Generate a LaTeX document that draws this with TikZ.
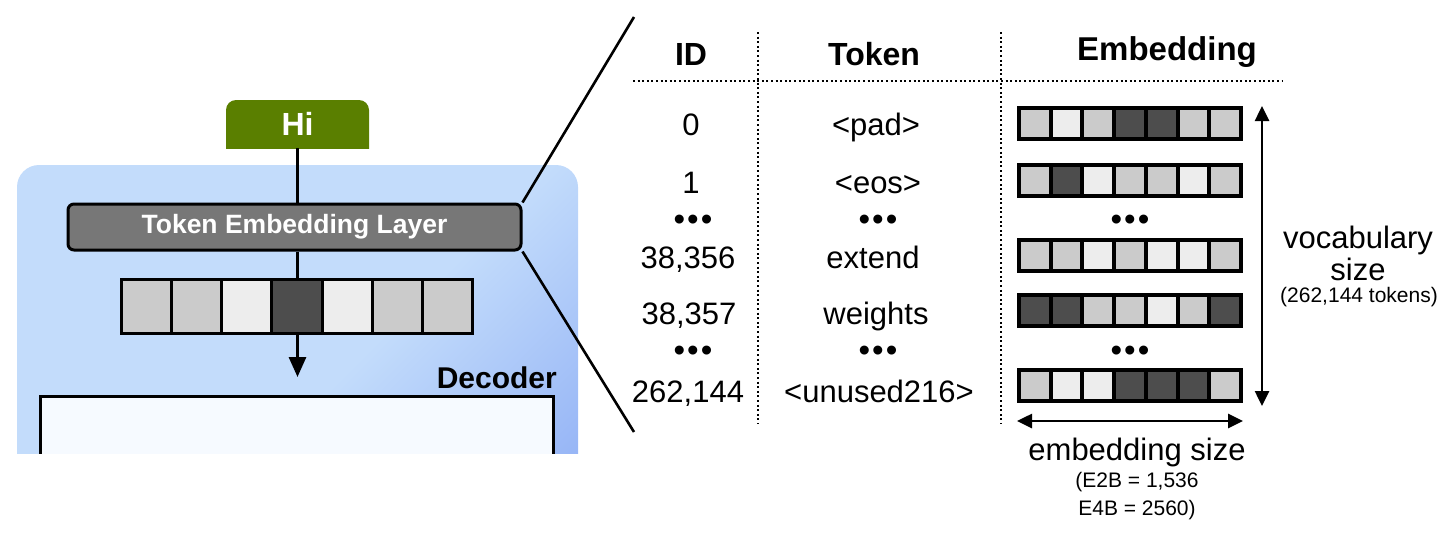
\documentclass[tikz,border=0pt]{standalone}
\usepackage{fontspec}
\setmainfont{Liberation Sans}
\usetikzlibrary{arrows.meta}
\definecolor{blueL}{HTML}{C3DCFB}
\definecolor{blueD}{HTML}{8DADF5}
\definecolor{decfill}{HTML}{F6FAFF}
\definecolor{higreen}{HTML}{5A7F00}
\definecolor{telgray}{HTML}{777777}
\definecolor{cellL}{HTML}{CBCBCB}
\definecolor{cellW}{HTML}{EDEDED}
\definecolor{cellD}{HTML}{4D4D4D}
\pgfdeclarehorizontalshading{decshade}{100bp}{color(0bp)=(blueL); color(56bp)=(blueL); color(86bp)=(blueD); color(100bp)=(blueD)}
\newcommand{\fsz}[2]{\fontsize{#1}{#2}\selectfont}
\begin{document}
\begin{tikzpicture}[x=1pt,y=-1pt,
  conn/.style={line width=3pt, draw=black},
  txt/.style={inner sep=0pt, font=\fsz{31}{33}},
  hdr/.style={inner sep=0pt, font=\bfseries\fsz{32}{34}},
  small/.style={inner sep=0pt, font=\fsz{21}{28}, align=center},
  dotline/.style={line width=1.8pt, dash pattern=on 2pt off 2.6pt},
  dimarrow/.style={line width=2.6pt, {Triangle[length=15pt,width=14pt]}-{Triangle[length=15pt,width=14pt]}},
  hibox/.style={minimum width=143pt, minimum height=48pt, inner sep=0pt, text=white,
    font=\bfseries\fsz{32}{34},
    path picture={\fill[higreen, rounded corners=10pt] (path picture bounding box.north west) rectangle ([yshift=-20pt]path picture bounding box.south east);}},
  telbox/.style={draw=black, line width=3pt, fill=telgray, rounded corners=6pt,
    minimum width=453pt, minimum height=46pt, inner sep=0pt, text=white, font=\bfseries\fsz{26.5}{28}},
  dots/.style={inner sep=0pt, font=\fsz{33}{35}, anchor=base},
]
\useasboundingbox (0,0) rectangle (1456,536);

% ---------- left panel ----------
\begin{scope}
  \clip (0,0) rectangle (1456,453);
  \shade[shading=decshade, shading angle=-45, rounded corners=22pt] (17,165) rectangle (578,520);
  \draw[line width=3pt, fill=decfill] (40,396) rectangle (553,520);
\end{scope}

\node[hibox] (hi) at (297.5,124) {Hi};
\node[telbox] (tel) at (294.5,227) {Token Embedding Layer};
\coordinate (arrtip) at (297.5,377);
\draw[conn] (hi.south) -- (hi.south |- tel.north);
\draw[conn, -{Triangle[length=20pt,width=17pt]}] (hi.south |- tel.south) -- (arrtip);

% left vector
\fill[black] (120,278) rectangle (474,335);
\foreach \c [count=\i from 0] in {L,L,W,D,W,L,L} {
  \fill[cell\c] ({123+\i*50.14},281) rectangle ++(47.14,51);
}

\node[font=\bfseries\fsz{30}{32}, inner sep=0pt, anchor=base east] (declab) at (557,388) {Decoder};

% zoom lines
\coordinate (zt) at (634,17);
\coordinate (zb) at (634,432);
\draw[line width=2.6pt] (tel.north east) -- (zt);
\draw[line width=2.6pt] (tel.south east) -- (zb);

% ---------- table ----------
\node[hdr, anchor=base] (hID) at (691,65) {ID};
\node[hdr, anchor=base] (hTok) at (874,65) {Token};
\node[hdr, anchor=base, font=\bfseries\fsz{33}{35}] (hEmb) at (1167,60) {Embedding};

\draw[dotline] (633,81) -- (1283,81);
\draw[dotline] (758,32) -- (758,424);
\draw[dotline] (1001,32) -- (1001,424);

\node[txt, anchor=base] (id0) at (691,135) {0};
\node[txt, anchor=base] (id1) at (691,193) {1};
\node[dots] (idd1) at (693,230) {•\kern2pt•\kern2pt•};
\node[txt, anchor=base] (id2) at (688,268) {38,356};
\node[txt, anchor=base] (id3) at (689,324) {38,357};
\node[dots] (idd2) at (693,361) {•\kern2pt•\kern2pt•};
\node[txt, anchor=base] (id4) at (688,402) {262,144};

\node[txt, anchor=base] (t0) at (876,135) {<pad>};
\node[txt, anchor=base] (t1) at (878,193) {<eos>};
\node[dots] (td1) at (878,230) {•\kern2pt•\kern2pt•};
\node[txt, anchor=base] (t2) at (873,268) {extend};
\node[txt, anchor=base] (t3) at (876,324) {weights};
\node[dots] (td2) at (878,361) {•\kern2pt•\kern2pt•};
\node[txt, anchor=base] (t4) at (879,402) {<unused216>};

% embedding rows
\foreach \y/\cols in {106/{L,W,L,D,D,L,L}, 163/{L,D,W,L,L,W,L}, 238/{L,L,W,L,W,W,L}, 293/{D,D,L,L,W,L,D}, 368/{L,W,W,D,D,D,L}} {
  \fill[black] (1017,\y) rectangle ++(226,35);
  \foreach \c [count=\i from 0] in \cols {
    \fill[cell\c] ({1021+\i*31.71},{\y+4}) rectangle ++(27.71,27);
  }
}
\node[dots] (ed1) at (1130,230) {•\kern2pt•\kern2pt•};
\node[dots] (ed2) at (1130,361) {•\kern2pt•\kern2pt•};

% dimension arrows
\coordinate (va1) at (1262,106);
\coordinate (va2) at (1262,406);
\draw[dimarrow] (va1) -- (va2);
\coordinate (ha1) at (1017,421);
\coordinate (ha2) at (1243,421);
\draw[dimarrow] (ha1) -- (ha2);

\node[txt, anchor=north, align=center, font=\fsz{31}{32}] (vocab) at (1358,226) {vocabulary\\size};
\node[small, anchor=base] (vocabn) at (1359,302) {(262,144 tokens)};
\node[txt, anchor=base] (embs) at (1137,460) {embedding size};
\node[small, anchor=north] (embn) at (1137,472) {(E2B = 1,536\\E4B = 2560)};
\end{tikzpicture}
\end{document}
